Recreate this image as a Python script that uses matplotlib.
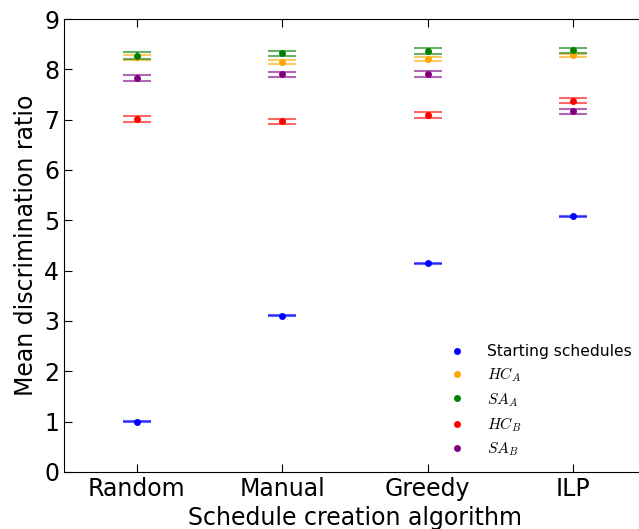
import matplotlib
matplotlib.use("Agg")
import matplotlib.pyplot as plt
from matplotlib.lines import Line2D
import numpy as np

plt.rcParams['mathtext.fontset'] = 'cm'

algorithms = ['Random', 'Manual', 'Greedy', 'ILP']

# середні значення та відхилення для кожної серії
start_mean = [1.0, 3.10, 4.15, 5.08]
start_err = [0.01, 0.01, 0.01, 0.01]
hca_mean = [8.24, 8.14, 8.21, 8.28]
hca_err = [0.05, 0.04, 0.045, 0.03]
saa_mean = [8.27, 8.32, 8.37, 8.38]
saa_err = [0.07, 0.05, 0.055, 0.047]
hcb_mean = [7.015, 6.97, 7.095, 7.38]
hcb_err = [0.055, 0.05, 0.055, 0.045]
sab_mean = [7.83, 7.90, 7.91, 7.165]
sab_err = [0.065, 0.05, 0.055, 0.045]

series = [
    ('Starting schedules', start_mean, start_err, 'blue'),
    ('$HC_A$', hca_mean, hca_err, 'orange'),
    ('$SA_A$', saa_mean, saa_err, 'green'),
    ('$HC_B$', hcb_mean, hcb_err, 'red'),
    ('$SA_B$', sab_mean, sab_err, 'purple'),
]

fig = plt.figure(figsize=(6.39, 5.29), dpi=100)
ax = fig.add_axes([0.100, 0.108, 0.911, 0.856])

x = np.arange(len(algorithms))
handles = []
for name, mean, err, color in series:
    cont = ax.errorbar(x, mean, yerr=err, fmt='o', color=color, ecolor=color,
                       markersize=5, elinewidth=1.5,
                       capsize=10, capthick=1.5)
    cont[0].set_markeredgewidth(0)
    for part in cont[1] + cont[2]:
        part.set_alpha(0.6)
    handles.append(Line2D([], [], linestyle='none', marker='o', markersize=5,
                          markeredgewidth=0, color=color, label=name))

ax.set_xlim(-0.5, 3.5)
ax.set_ylim(0, 9)
ax.set_xticks(x)
ax.set_xticklabels(algorithms)
ax.tick_params(direction='in', top=True, right=False, labelsize=17, length=6)
ax.set_xlabel('Schedule creation algorithm', fontsize=17)
ax.set_ylabel('Mean discrimination ratio', fontsize=17)

ax.legend(handles=handles, loc='lower right', frameon=False, numpoints=1,
          fontsize=11.2, handletextpad=1.2, handlelength=1.5,
          bbox_to_anchor=(1.0, 0.0), labelspacing=0.42)

fig.savefig('out.png', dpi=100)
